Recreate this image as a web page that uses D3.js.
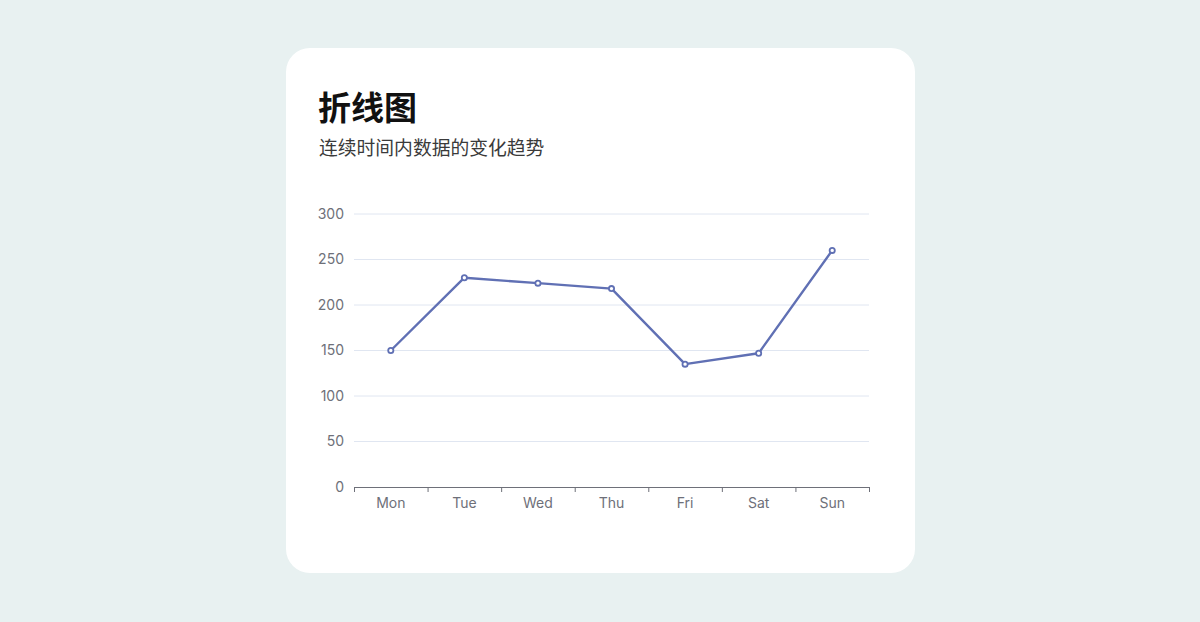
<!DOCTYPE html>
<html><head><meta charset="utf-8">
<script src="https://cdn.jsdelivr.net/npm/d3@7/dist/d3.min.js"></script>
<style>
html,body{margin:0;padding:0;background:#e8f1f1;}
svg{display:block;}
</style></head>
<body>
<svg id="c" width="1200" height="622"></svg>
<script>
const categories = ["Mon","Tue","Wed","Thu","Fri","Sat","Sun"];
const values = [150, 230, 224, 218, 135, 147, 260];
const yTicks = [0, 50, 100, 150, 200, 250, 300];
const title = "折线图";
const subtitle = "连续时间内数据的变化趋势";

const svg = d3.select("#c");
const font = "'Noto Sans CJK SC','Noto Sans',sans-serif";
const latin = "Inter,'Liberation Sans',sans-serif";
svg.append("rect").attr("width",1200).attr("height",622).attr("fill","#e8f1f1");
svg.append("rect").attr("x",286).attr("y",48).attr("width",629).attr("height",525)
  .attr("rx",24).attr("fill","#ffffff");

svg.append("text").attr("x",318).attr("y",120).text(title)
  .attr("font-family",font).attr("font-size",33).attr("font-weight",700).attr("fill","#111");
svg.append("text").attr("x",319).attr("y",155).text(subtitle)
  .attr("font-family",font).attr("font-size",18.8).attr("fill","#3a3a3a");

const x = d3.scaleBand().domain(categories).range([354,869]);
const y = d3.scaleLinear().domain([0,300]).range([487,214]);

const g = svg.append("g");
g.selectAll("line.grid").data(yTicks.filter(d=>d>0)).join("line")
  .attr("x1",354).attr("x2",869).attr("y1",d=>y(d)).attr("y2",d=>y(d))
  .attr("stroke","#e0e6f1").attr("stroke-width",1);

g.selectAll("text.yl").data(yTicks).join("text")
  .attr("x",344).attr("y",d=>y(d)).attr("dy","0.35em").attr("text-anchor","end")
  .attr("font-family",latin).attr("font-size",14).attr("fill","#6e7079").text(d=>d);

const xa = svg.append("g").attr("transform",`translate(0,${y(0)})`);
xa.call(d3.axisBottom(d3.scaleLinear().domain([0,categories.length]).range([354,869]))
  .tickValues(d3.range(categories.length+1)).tickSize(5).tickFormat(""));
xa.select(".domain").attr("stroke","#6e7079").attr("d","M354,0.5H869");
xa.selectAll(".tick line").attr("stroke","#6e7079");
svg.selectAll("text.xl").data(categories).join("text")
  .attr("x",d=>x(d)+x.bandwidth()/2).attr("y",508).attr("text-anchor","middle")
  .attr("font-family",latin).attr("font-size",14).attr("fill","#6e7079").text(d=>d);

const line = d3.line().x((d,i)=>x(categories[i])+x.bandwidth()/2).y(d=>y(d));
svg.append("path").datum(values).attr("d",line).attr("fill","none")
  .attr("stroke","#6070b4").attr("stroke-width",2.4).attr("stroke-linejoin","round");
svg.selectAll("circle.pt").data(values).join("circle")
  .attr("cx",(d,i)=>x(categories[i])+x.bandwidth()/2).attr("cy",d=>y(d)).attr("r",2.6)
  .attr("fill","#fff").attr("stroke","#6070b4").attr("stroke-width",1.8);
</script>
</body></html>
